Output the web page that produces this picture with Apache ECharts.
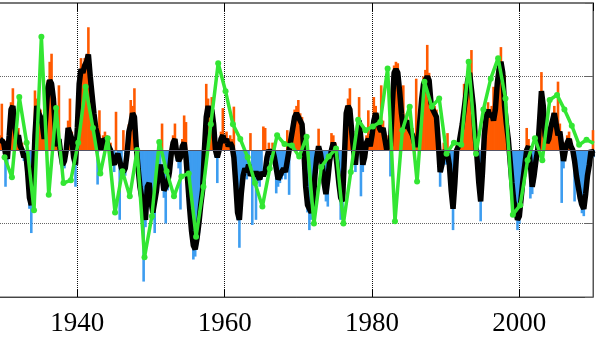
<!DOCTYPE html>
<html><head><meta charset="utf-8">
<script src="https://cdn.jsdelivr.net/npm/echarts@6/dist/echarts.min.js"></script>
<style>html,body{margin:0;padding:0;background:#fff}#c{width:596px;height:341px}</style>
</head><body><div id="c"></div>
<script>
// quarterly series start (year) and step
const quarterStart = 1929.5;
const quarterStep = 0.25;

// quarterly index values (bars), 1929.50 ... 2010.25
const barValues = [
  0.2, 0.63,
  0.15, -0.5, -0.2, 0.3,
  0.65, 0.84, 0.45, 0.2,
  0.3, 0.15, 0.1, -0.15,
  -0.1, -0.4, -0.8, -1.13,
  -0.55, 0.81, 0.7, 0.6,
  0.55, 0.45, 0.25, 0.6,
  0.95, 1.2, 1.31, 0.8,
  0.4, 0.2, 0.88, -0.1,
  -0.3, -0.25, 0.1, 0.4,
  0.7, 0.25, -0.2, -0.5,
  0.4, 1.0, 1.25, 1.15,
  1.25, 1.3, 1.67, 1.1,
  0.85, 0.6, 0.4, -0.47,
  0.54, 0.1, 0.2, 0.25,
  0.2, 0.15, 0.1, -0.2,
  -0.3, 0.52, -0.15, -0.95,
  -0.35, 0.27, -0.35, -0.15,
  0.35, 0.68, 0.6, 0.84,
  0.15, -0.35, -0.6, -0.75,
  -1.79, -1.05, -0.6, -0.55,
  -0.8, -0.95, -1.13, -0.65,
  -0.4, -0.3, 0.36, -0.65,
  -1.0, -0.55, -0.4, -0.15,
  0.2, 0.36, -0.15, -0.25,
  -0.81, 0.15, 0.47, 0.38,
  -0.55, -0.9, -1.2, -1.49,
  -1.45, -1.3, -1.13, -0.85,
  -0.65, 0.1, 0.9, 0.7,
  0.55, 0.72, 0.45, -0.1,
  -0.45, 0.1, 0.25, 0.57,
  0.2, 0.25, 0.15, 0.2,
  0.15, 0.59, -0.55, -0.95,
  -1.33, -0.7, -0.45, -0.35,
  -0.4, -0.3, 0.23, -1.02,
  -0.45, -0.95, -0.45, -0.5,
  -0.4, 0.32, 0.3, -0.2,
  0.1, -0.15, 0.1, -0.2,
  -0.59, -0.5, -0.45, -0.4,
  -0.35, -0.4, 0.27, -0.61,
  0.25, 0.4, 0.55, 0.6,
  0.68, 0.5, 0.45, 0.1,
  -0.6, -0.85, -1.09, -0.95,
  -0.85, -0.45, -0.2, 0.29,
  -0.15, -0.3, -0.55, -0.7,
  -0.77, -0.25, 0.23, 0.2,
  0.1, -0.3, -0.55, -0.95,
  -0.8, -0.2, 0.6, 0.7,
  0.84, 0.35, 0.1, -0.3,
  0.2, 0.72, -0.63, -0.3,
  -0.2, 0.2, 0.54, 0.15,
  0.3, 0.72, 0.6, 0.5,
  0.4, 0.88, 0.4, 0.25,
  0.1, 0.2, -0.36, 0.7,
  1.15, 1.2, 1.18, 0.9,
  0.6, 0.88, 0.45, 0.5,
  0.4, 0.35, 0.3, 0.2,
  0.97, 0.2, 0.5, 0.8,
  1.0, 1.09, 1.43, 1.05,
  0.68, 0.65, 0.6, 0.55,
  0.2, -0.5, -0.3, 0.1,
  -0.2, 0.23, -0.3, -0.65,
  -1.09, -0.55, 0.1, 0.15,
  0.3, 0.45, 0.9, 0.85,
  1.05, 1.15, 1.36, 0.7,
  0.3, -0.2, -0.55, -0.97,
  -0.4, 0.3, 0.55, 0.65,
  0.55, 0.6, 0.86, 0.6,
  1.0, 1.18, 1.4, 1.15,
  1.02, 0.45, 0.25, -0.25,
  -0.55, -0.8, -0.9, -1.09,
  -1.0, -0.75, -0.5, -0.3,
  0.3, 0.15, -0.66, -0.6,
  -0.45, -0.25, 0.1, 0.5,
  1.06, 0.7, 0.3, 0.2,
  0.25, 0.35, 0.5, 0.6,
  0.45, 0.93, 0.36, -0.72,
  -0.25, 0.1, 0.2, 0.25,
  0.15, -0.1, -0.7, -0.45,
  -0.6, -0.75, -0.86, -0.9,
  -0.7, -0.45, -0.3, -0.1,
  0.27, -0.1
];

// smoothed index (thick black line), same quarterly positions
const smoothValues = [
  0.15, 0.15,
  0.1, -0.05, -0.12, 0.2,
  0.55, 0.6, 0.35, 0.15,
  0.2, 0.05, 0.0, -0.1,
  -0.05, -0.3, -0.65, -0.75,
  -0.45, 0.2, 0.6, 0.5,
  0.45, 0.35, 0.15, 0.5,
  0.85, 0.95, 0.9, 0.7,
  0.3, 0.05, 0.15, -0.05,
  -0.2, -0.15, 0.0, 0.3,
  0.3, 0.15, -0.1, -0.2,
  0.3, 0.9, 1.1, 1.05,
  1.15, 1.2, 1.3, 1.0,
  0.75, 0.5, 0.3, 0.2,
  0.05, 0.0, 0.15, 0.15,
  0.1, 0.1, 0.0, -0.15,
  -0.2, -0.1, -0.05, -0.15,
  -0.25, -0.3, -0.25, -0.05,
  0.25, 0.35, 0.5, 0.45,
  0.05, -0.25, -0.5, -0.65,
  -0.8, -0.95, -0.5, -0.45,
  -0.7, -0.85, -0.7, -0.55,
  -0.3, -0.2, -0.35, -0.55,
  -0.5, -0.45, -0.3, -0.05,
  0.1, 0.15, -0.05, -0.15,
  -0.1, 0.05, 0.1, -0.1,
  -0.45, -0.8, -1.1, -1.3,
  -1.35, -1.2, -1.0, -0.75,
  -0.55, 0.0, 0.45, 0.6,
  0.45, 0.55, 0.35, 0.0,
  -0.1, 0.0, 0.15, 0.2,
  0.1, 0.15, 0.05, 0.1,
  0.05, -0.1, -0.45, -0.85,
  -0.95, -0.6, -0.35, -0.25,
  -0.3, -0.2, -0.35, -0.3,
  -0.35, -0.3, -0.35, -0.4,
  -0.3, -0.35, -0.3, -0.1,
  0.0, -0.05, 0.0, -0.1,
  -0.25, -0.4, -0.35, -0.3,
  -0.25, -0.3, -0.15, 0.0,
  0.15, 0.3, 0.45, 0.5,
  0.45, 0.4, 0.35, 0.0,
  -0.5, -0.75, -0.8, -0.85,
  -0.75, -0.35, -0.1, 0.05,
  -0.05, -0.2, -0.45, -0.6,
  -0.4, -0.15, 0.0, 0.1,
  0.0, -0.2, -0.45, -0.65,
  -0.7, -0.1, 0.5, 0.6,
  0.55, 0.25, 0.0, -0.2,
  0.1, 0.4, 0.15, -0.2,
  -0.1, 0.1, 0.15, 0.05,
  0.2, 0.4, 0.5, 0.4,
  0.3, 0.25, 0.3, 0.15,
  0.0, 0.1, 0.05, 0.6,
  1.05, 1.1, 1.05, 0.8,
  0.5, 0.3, 0.35, 0.4,
  0.3, 0.25, 0.2, 0.1,
  0.05, 0.1, 0.4, 0.7,
  0.9, 0.95, 1.0, 0.95,
  0.65, 0.55, 0.5, 0.45,
  0.1, -0.3, -0.2, 0.0,
  -0.1, -0.05, -0.2, -0.55,
  -0.8, -0.45, 0.0, 0.05,
  0.2, 0.35, 0.55, 0.75,
  0.95, 1.05, 1.05, 0.6,
  0.2, -0.1, -0.45, -0.7,
  -0.3, 0.2, 0.45, 0.55,
  0.45, 0.5, 0.4, 0.55,
  0.9, 1.1, 1.2, 1.05,
  0.6, 0.35, 0.15, -0.15,
  -0.45, -0.7, -0.8, -0.95,
  -0.9, -0.65, -0.4, -0.2,
  0.0, 0.05, -0.2, -0.5,
  -0.35, -0.15, 0.0, 0.4,
  0.8, 0.6, 0.2, 0.1,
  0.15, 0.3, 0.4, 0.5,
  0.35, 0.2, 0.25, 0.05,
  -0.15, 0.0, 0.1, 0.15,
  0.05, 0.0, -0.15, -0.35,
  -0.5, -0.65, -0.75, -0.8,
  -0.6, -0.35, -0.2, 0.0,
  -0.05, -0.05
];

// annual values (green line)
const annualYears = [
  1930,1931,1932,1933,1934,1935,1936,1937,1938,1939,
  1940,1941,1942,1943,1944,1945,1946,1947,1948,1949,
  1950,1951,1952,1953,1954,1955,1956,1957,1958,1959,
  1960,1961,1962,1963,1964,1965,1966,1967,1968,1969,
  1970,1971,1972,1973,1974,1975,1976,1977,1978,1979,
  1980,1981,1982,1983,1984,1985,1986,1987,1988,1989,
  1990,1991,1992,1993,1994,1995,1996,1997,1998,1999,
  2000,2001,2002,2003,2004,2005,2006,2007,2008,2009,2010
];
const annualValues = [
  -0.1, -0.37, 0.72, 0.1, -0.82, 1.54, -0.61, 0.57, -0.45, -0.41,
  0.1, 0.86, 0.3, -0.32, 0.16, -0.85, -0.29, -0.63, 0.0, -1.46,
  -0.9, 0.11, -0.29, -0.63, -0.36, -0.32, -1.18, -0.5, 0.35, 1.18,
  0.8, 0.35, 0.15, -0.1, -0.45, -0.77, -0.25, 0.2, 0.08, 0.06,
  -0.09, 0.18, -1.0, -0.23, -0.09, 0.02, -1.0, -0.3, 0.41, 0.27,
  0.32, 0.38, 1.11, -0.97, 0.27, 0.59, -0.43, 0.93, 0.59, 0.7,
  -0.05, 0.1, 0.07, 1.2, -0.05, 0.55, 0.97, 1.25, 0.7, -0.88,
  -0.75, -0.14, 0.16, -0.14, 0.68, 0.75, 0.55, 0.33, 0.07, 0.14, 0.09
];

const xTickLabels = ['1940', '1960', '1980', '2000'];

const barData = barValues.map((v, i) => [quarterStart + i * quarterStep, v]);
const smoothData = smoothValues.map((v, i) => [quarterStart + i * quarterStep, v]);
const annualData = annualValues.map((v, i) => [annualYears[i] + 0.12, v]);

const chart = echarts.init(document.getElementById('c'), null, {renderer: 'canvas'});
chart.setOption({
  animation: false,
  backgroundColor: '#fff',
  grid: {left: -70, right: 3, top: 3, bottom: 44, show: true, borderColor: '#555', borderWidth: 1, containLabel: false, outerBoundsMode: 'none'},
  xAxis: [{
    type: 'value', min: 1920, max: 2010, interval: 20, position: 'bottom',
    axisLine: {show: true, onZero: false, lineStyle: {color: '#444', width: 1}},
    axisTick: {show: true, inside: true, length: 8, lineStyle: {color: '#000'}},
    axisLabel: {
      show: true, margin: 13, color: '#000', fontFamily: 'Liberation Serif', fontSize: 27,
      showMinLabel: true, showMaxLabel: false,
      formatter: v => (xTickLabels.indexOf(String(v)) >= 0 ? String(v) : '')
    },
    splitLine: {show: true, lineStyle: {type: 'dotted', color: '#111', width: 1}}
  }, {
    type: 'value', min: 1920, max: 2010, interval: 20, position: 'top',
    axisLine: {show: true, onZero: false, lineStyle: {color: '#777', width: 2}},
    axisTick: {show: true, inside: true, length: 8, lineStyle: {color: '#000'}},
    axisLabel: {show: false},
    splitLine: {show: false}
  }],
  yAxis: [{
    type: 'value', min: -2, max: 2, interval: 1, position: 'right',
    axisLine: {show: true, onZero: false, lineStyle: {color: '#555', width: 1}},
    axisTick: {show: true, inside: true, length: 8, lineStyle: {color: '#666'}},
    axisLabel: {show: false},
    splitLine: {show: true, lineStyle: {type: 'dotted', color: '#666', width: 1}}
  }],
  series: [{
    type: 'bar', xAxisIndex: 0, yAxisIndex: 0, data: barData, barWidth: 2.6,
    itemStyle: {color: p => (p.value[1] >= 0 ? '#ff5a00' : '#3d9df0')},
    markLine: {silent: true, symbol: ['none', 'none'], label: {show: false},
      lineStyle: {color: '#556', type: 'solid', width: 1}, data: [{yAxis: 0}]},
    z: 2
  }, {
    type: 'line', xAxisIndex: 0, yAxisIndex: 0, data: smoothData, showSymbol: false,
    lineStyle: {color: '#000', width: 5.5}, z: 3
  }, {
    type: 'line', xAxisIndex: 0, yAxisIndex: 0, data: annualData,
    symbol: 'circle', symbolSize: 6, showSymbol: true,
    itemStyle: {color: '#33e633'}, lineStyle: {color: '#33e633', width: 3.5}, z: 4
  }]
});
</script>
</body></html>
